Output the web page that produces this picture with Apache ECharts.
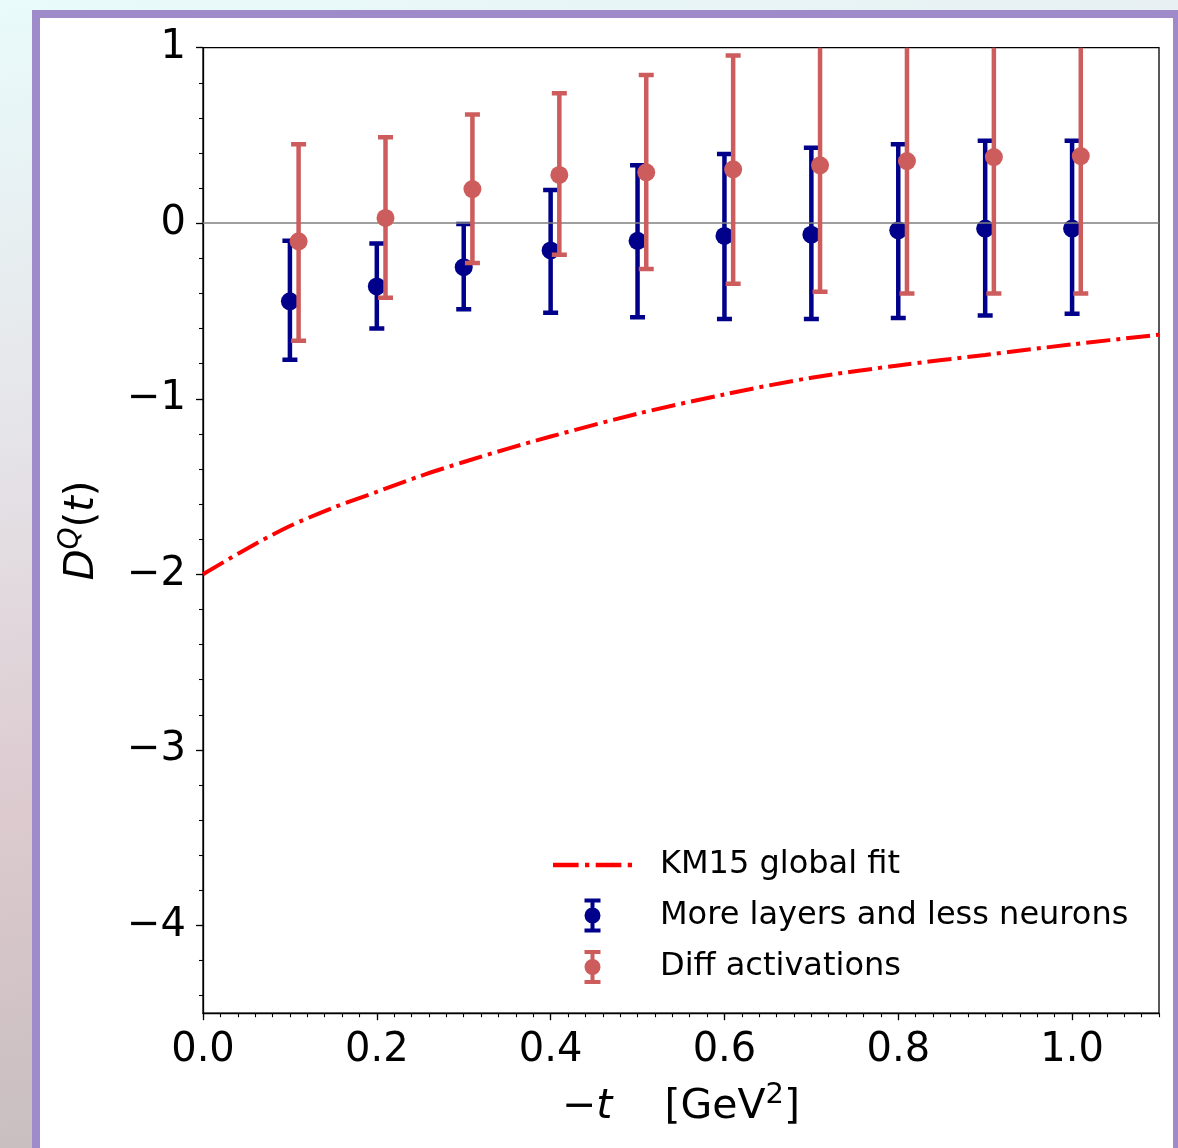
<!DOCTYPE html>
<html>
<head>
<meta charset="utf-8">
<script src="https://cdn.jsdelivr.net/npm/echarts@6/dist/echarts.min.js"></script>
<style>
  html, body { margin: 0; padding: 0; width: 1178px; height: 1148px; overflow: hidden; }
  body { background: linear-gradient(170deg, #e9fbfb 0%, #e6e6ea 30%, #dccacf 60%, #bdb7b7 100%); position: relative; }
  #frame { position: absolute; left: 32px; top: 10px; width: 1133px; height: 1200px; border: 8px solid #9f8bc9; background: #ffffff; }
  #chart { position: absolute; left: 0; top: 0; width: 1178px; height: 1148px; }
</style>
</head>
<body>
<div id="frame"></div>
<div id="chart"></div>
<script>
// ---- data ----
const xBlue   = [0.1, 0.2, 0.3, 0.4, 0.5, 0.6, 0.7, 0.8, 0.9, 1.0];
const blueVal = [-0.445, -0.36, -0.25, -0.155, -0.10, -0.072, -0.065, -0.04, -0.03, -0.03];
const blueLo  = [-0.777, -0.60, -0.49, -0.51, -0.535, -0.545, -0.545, -0.54, -0.525, -0.515];
const blueHi  = [-0.10, -0.116, -0.004, 0.19, 0.33, 0.394, 0.43, 0.45, 0.47, 0.47];

const xRed   = [0.11, 0.21, 0.31, 0.41, 0.51, 0.61, 0.71, 0.81, 0.91, 1.01];
const redVal = [-0.103, 0.03, 0.195, 0.275, 0.29, 0.307, 0.33, 0.354, 0.377, 0.383];
const redLo  = [-0.67, -0.425, -0.227, -0.18, -0.26, -0.345, -0.39, -0.40, -0.40, -0.40];
const redHi  = [0.45, 0.49, 0.62, 0.74, 0.845, 0.956, 1.05, 1.11, 1.15, 1.17];

const kmT = [0, 0.05, 0.1, 0.15, 0.2, 0.25, 0.3, 0.35, 0.4, 0.5, 0.6, 0.7, 0.8, 0.9, 1.0, 1.1];
const kmD = [-2.0, -1.855, -1.725, -1.62, -1.53, -1.44, -1.36, -1.285, -1.215, -1.085, -0.975, -0.88, -0.81, -0.75, -0.69, -0.635];

const xTicks = [0, 0.2, 0.4, 0.6, 0.8, 1.0];
const yTicks = [-4, -3, -2, -1, 0, 1];

const names = ['KM15 global fit', 'More layers and less neurons', 'Diff activations'];

// ---- helpers ----
const FONT = 'DejaVu Sans';
const BLUE = '#00008b', RED = '#cd5c5c', FIT = '#ff0000';
function minorList(a, b, step) {
  const out = [];
  const n = Math.round((b - a) / step);
  for (let i = 0; i <= n; i++) out.push(Math.round((a + i * step) * 1000) / 1000);
  return out;
}
const xMinor = minorList(0, 1.1, 0.02);
const yMinor = minorList(-4.4, 1.0, 0.2);

function fmtNum(v, digits) {
  const s = digits == null ? String(Math.abs(v)) : Math.abs(v).toFixed(digits);
  return (v < 0 ? '\u2212' : '') + s;
}

function errRender(color) {
  return function (params, api) {
    const x = api.value(0);
    const pHi = api.coord([x, api.value(2)]);
    const pLo = api.coord([x, api.value(1)]);
    const hw = 7.5;
    const st = { stroke: color, lineWidth: 4.5 };
    return {
      type: 'group',
      children: [
        { type: 'line', shape: { x1: pHi[0], y1: pHi[1], x2: pLo[0], y2: pLo[1] }, style: st },
        { type: 'line', shape: { x1: pHi[0] - hw, y1: pHi[1], x2: pHi[0] + hw, y2: pHi[1] }, style: st },
        { type: 'line', shape: { x1: pLo[0] - hw, y1: pLo[1], x2: pLo[0] + hw, y2: pLo[1] }, style: st }
      ]
    };
  };
}

const blueErr = xBlue.map((x, i) => [x, blueLo[i], blueHi[i]]);
const redErr = xRed.map((x, i) => [x, redLo[i], redHi[i]]);
const bluePts = xBlue.map((x, i) => [x, blueVal[i]]);
const redPts = xRed.map((x, i) => [x, redVal[i]]);
const kmPts = kmT.map((t, i) => [t, kmD[i]]);

const lineIcon = 'path://M0,0H24V4H0Z M30,0H34V4H30Z M40,0H64V4H40Z M70,0H74V4H70Z';
const errIcon = 'path://M0,0H16V4H0Z M6,0H10V34H6Z M0,30H16V34H0Z M0,17A8,8 0 0 1 16,17A8,8 0 0 1 0,17Z';

const chart = echarts.init(document.getElementById('chart'), null, { renderer: 'canvas' });

const axisCommonX = { type: 'value', min: 0, max: 1.1, gridIndex: 0 };
const axisCommonY = { type: 'value', min: -4.5, max: 1, gridIndex: 0 };

const option = {
  animation: false,
  backgroundColor: 'transparent',
  textStyle: { fontFamily: FONT },
  grid: {
    left: 203, top: 47.7, width: 956, height: 965.5,
    show: true, borderColor: '#000', borderWidth: 1.3, backgroundColor: 'transparent'
  },
  legend: {
    orient: 'vertical',
    left: 548, top: 844,
    itemWidth: 79, itemHeight: 34, itemGap: 17.5,
    selectedMode: false,
    textStyle: { fontFamily: FONT, fontSize: 32, color: '#000', padding: [0, 0, 0, 23] },
    data: [
      { name: names[0], icon: lineIcon },
      { name: names[1], icon: errIcon },
      { name: names[2], icon: errIcon }
    ]
  },
  xAxis: [
    Object.assign({}, axisCommonX, {
      name: '{m|\u2212}{i|t}{m|    [GeV}{s|2}{m|]}',
      nameLocation: 'middle', nameGap: 68,
      nameTextStyle: {
        rich: {
          m: { fontFamily: FONT, fontSize: 41, color: '#000', lineHeight: 52 },
          i: { fontFamily: FONT, fontSize: 41, fontStyle: 'italic', color: '#000', lineHeight: 52 },
          s: { fontFamily: FONT, fontSize: 29, color: '#000', verticalAlign: 'top', lineHeight: 52 }
        }
      },
      axisLine: { show: true, onZero: false, lineStyle: { color: '#000', width: 1.3 } },
      axisTick: { show: true, inside: false, length: 7, lineStyle: { color: '#000', width: 1.3 }, customValues: xTicks },
      axisLabel: { show: true, margin: 17, fontSize: 40, fontFamily: FONT, color: '#000', customValues: xTicks, formatter: v => fmtNum(v, 1) },
      splitLine: { show: false }
    }),
    Object.assign({}, axisCommonX, {
      position: 'bottom',
      axisLine: { show: false, onZero: false },
      axisTick: { show: true, inside: false, length: 4, lineStyle: { color: '#000', width: 1.1 }, customValues: xMinor },
      axisLabel: { show: false },
      splitLine: { show: false }
    })
  ],
  yAxis: [
    Object.assign({}, axisCommonY, {
      name: '{i|D}{s|Q}{m|(}{i|t}{m|)}',
      nameLocation: 'middle', nameGap: 94, nameRotate: 90,
      nameTextStyle: {
        rich: {
          m: { fontFamily: FONT, fontSize: 40, color: '#000', lineHeight: 52 },
          i: { fontFamily: FONT, fontSize: 40, fontStyle: 'italic', color: '#000', lineHeight: 52 },
          s: { fontFamily: FONT, fontSize: 28, fontStyle: 'italic', color: '#000', verticalAlign: 'top', lineHeight: 52 }
        }
      },
      axisLine: { show: true, onZero: false, lineStyle: { color: '#000', width: 1.3 } },
      axisTick: { show: true, inside: false, length: 7, lineStyle: { color: '#000', width: 1.3 }, customValues: yTicks },
      axisLabel: { show: true, margin: 17, fontSize: 40, fontFamily: FONT, color: '#000', customValues: yTicks, formatter: v => fmtNum(v) },
      splitLine: { show: false }
    }),
    Object.assign({}, axisCommonY, {
      position: 'left',
      axisLine: { show: false, onZero: false },
      axisTick: { show: true, inside: false, length: 4, lineStyle: { color: '#000', width: 1.1 }, customValues: yMinor },
      axisLabel: { show: false },
      splitLine: { show: false }
    })
  ],
  series: [
    {
      name: names[0], type: 'line', data: kmPts, xAxisIndex: 0, yAxisIndex: 0,
      smooth: 0.3, showSymbol: false, symbol: 'none', z: 2,
      color: FIT, itemStyle: { color: FIT },
      lineStyle: { color: FIT, width: 4, type: [24, 6, 4, 6], cap: 'butt' },
      markLine: {
        silent: true, symbol: 'none', label: { show: false },
        lineStyle: { color: '#7f7f7f', width: 1.5, type: 'solid' },
        data: [{ yAxis: 0 }]
      }
    },
    {
      name: names[1], type: 'custom', data: blueErr, xAxisIndex: 0, yAxisIndex: 0,
      renderItem: errRender(BLUE), clip: true, z: 3, color: BLUE, itemStyle: { color: BLUE },
      encode: { x: 0, y: [1, 2] }
    },
    {
      name: names[1], type: 'scatter', data: bluePts, xAxisIndex: 0, yAxisIndex: 0,
      symbol: 'circle', symbolSize: 18, z: 4, itemStyle: { color: BLUE, opacity: 1 }
    },
    {
      name: names[2], type: 'custom', data: redErr, xAxisIndex: 0, yAxisIndex: 0,
      renderItem: errRender(RED), clip: true, z: 5, color: RED, itemStyle: { color: RED },
      encode: { x: 0, y: [1, 2] }
    },
    {
      name: names[2], type: 'scatter', data: redPts, xAxisIndex: 0, yAxisIndex: 0,
      symbol: 'circle', symbolSize: 18, z: 6, itemStyle: { color: RED, opacity: 1 }
    }
  ]
};
chart.setOption(option);
</script>
</body>
</html>
